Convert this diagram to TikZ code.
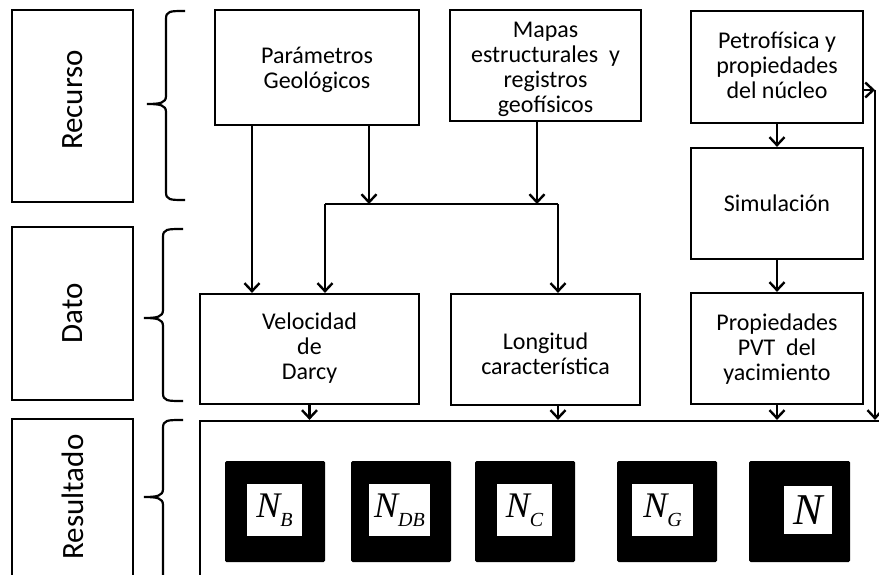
\documentclass[tikz,border=0pt]{standalone}
\usepackage{fontspec}
\setmainfont{Carlito}
\newfontfamily\nfont{Liberation Serif}
\usetikzlibrary{arrows.meta,calc}
\newcommand{\Nsub}[1]{{\nfont\itshape\fontsize{36}{36}\selectfont N}\raisebox{-9pt}{\nfont\itshape\fontsize{20}{20}\selectfont #1}}
\begin{document}
\begin{tikzpicture}[x=1pt,y=-1pt,
  box/.style={draw,line width=2.2pt,rectangle,inner sep=0pt},
  txt/.style={align=center,font=\fontsize{24}{25}\selectfont,inner sep=0pt},
  lab/.style={rotate=90,font=\fontsize{31}{33}\selectfont,inner sep=0pt},
  arr/.style={line width=2.2pt,-{Straight Barb[length=8pt,width=15pt,line width=2.4pt]}},
  ln/.style={line width=2.2pt},
  brc/.style={line width=2.2pt},
  blk/.style={fill=black,rounded corners=1.5pt,inner sep=0pt},
  wht/.style={fill=white,inner sep=0pt}]
\clip (0,0) rectangle (879,575);
\fill[white] (0,0) rectangle (879,575);

% left category boxes
\node[box,minimum width=121pt,minimum height=192pt] (labR) at (72.5,106) {};
\node[lab] (labRt) at (72.5,100) {Recurso};
\node[box,minimum width=121pt,minimum height=173pt] (labD) at (72.5,313.5) {};
\node[lab] (labDt) at (labD) {Dato};
\node[box,minimum width=121pt,minimum height=200pt] (labS) at (72.5,519) {};
\node[lab] (labSt) at (72.5,497) {Resultado};

% braces
\draw[brc] (185,11) .. controls (170,11) and (166,11) .. (166,19) -- (166,96)
  .. controls (166,103) and (160,104) .. (147,104)
  .. controls (160,104) and (166,105) .. (166,112) -- (166,192)
  .. controls (166,200) and (170,200) .. (185,200);
\draw[brc] (183,229) .. controls (167,229) and (163,229) .. (163,237) -- (163,310)
  .. controls (163,317) and (157,318) .. (144,318)
  .. controls (157,318) and (163,319) .. (163,326) -- (163,393)
  .. controls (163,401) and (167,401) .. (183,401);
\draw[brc] (183,420) .. controls (167,420) and (163,420) .. (163,428) -- (163,489)
  .. controls (163,496) and (157,497) .. (144,497)
  .. controls (157,497) and (163,498) .. (163,505) -- (163,580);

% top row
\node[box,minimum width=204pt,minimum height=115pt] (par) at (317,67.5) {};
\node[txt] (part) at (317,70) {Parámetros\\Geológicos};
\node[box,minimum width=191pt,minimum height=111pt] (map) at (545.5,65.5) {};
\node[txt] (mapt) at (545.5,69.5) {Mapas\\estructurales\ \ y\\registros\\geofísicos};
\node[box,minimum width=172pt,minimum height=112pt] (pet) at (777,67) {};
\node[txt] (pett) at (777,65.5) {Petrofísica y\\propiedades\\del núcleo};
\node[box,minimum width=172pt,minimum height=111pt] (sim) at (777,203.5) {};
\node[txt] (simt) at (sim) {Simulación};

% middle row
\node[box,minimum width=219pt,minimum height=110pt] (vel) at (309.5,349) {};
\node[txt] (velt) at (309.5,348) {Velocidad\\de\\Darcy};
\node[box,minimum width=189pt,minimum height=111pt] (lon) at (545.5,349.5) {};
\node[txt] (lont) at (545.5,353.5) {Longitud\\característica};
\node[box,minimum width=172pt,minimum height=111pt] (pvt) at (777,348.5) {};
\node[txt] (pvtt) at (777,349) {Propiedades\\PVT\ \ del\\yacimiento};

% result box
\node[box,minimum width=700pt,minimum height=170pt] (res) at (550,506) {};

% connectors
\coordinate (j1) at (369,204);
\coordinate (j2) at (537,204);
\coordinate (jl) at (325,204);
\coordinate (jr) at (558,204);
\coordinate (cr) at (875,90);
\draw[arr] (par.south -| 252,0) -- (vel.north -| 252,0);
\draw[arr] (par.south -| j1) -- (j1);
\draw[arr] (map.south -| j2) -- (j2);
\draw[ln] (jl) -- (jr);
\draw[arr] (jl) -- (vel.north -| jl);
\draw[arr] (jr) -- (lon.north -| jr);
\draw[arr] (pet.south) -- (sim.north);
\draw[arr] (sim.south) -- (pvt.north);
\draw[arr] (pet.east |- cr) -- (cr);
\draw[arr] (cr) -- (res.north -| cr);
\draw[arr] (vel.south) -- (res.north -| vel.south);
\draw[arr] (lon.south -| jr) -- (res.north -| jr);
\draw[arr] (pvt.south) -- (res.north -| pvt.south);

% dimensionless numbers
\node[blk,minimum width=100pt,minimum height=101pt] (bB) at (275,511.5) {};
\node[wht,minimum width=55pt,minimum height=52pt] (wB) at (274.5,510) {\Nsub{B}};
\node[blk,minimum width=100pt,minimum height=101pt] (bDB) at (401,511.5) {};
\node[wht,minimum width=61pt,minimum height=52pt] (wDB) at (399.5,510) {\Nsub{DB}};
\node[blk,minimum width=100pt,minimum height=101pt] (bC) at (525,511.5) {};
\node[wht,minimum width=55pt,minimum height=52pt] (wC) at (524.5,510) {\Nsub{C}};
\node[blk,minimum width=100pt,minimum height=101pt] (bG) at (667,511.5) {};
\node[wht,minimum width=61pt,minimum height=52pt] (wG) at (662.5,510) {\Nsub{G}};
\node[blk,minimum width=101pt,minimum height=101pt] (bN) at (799.5,511.5) {};
\node[wht,minimum width=48pt,minimum height=48pt] (wN) at (808,510) {{\nfont\itshape\fontsize{44}{44}\selectfont N}};
\end{tikzpicture}
\end{document}
